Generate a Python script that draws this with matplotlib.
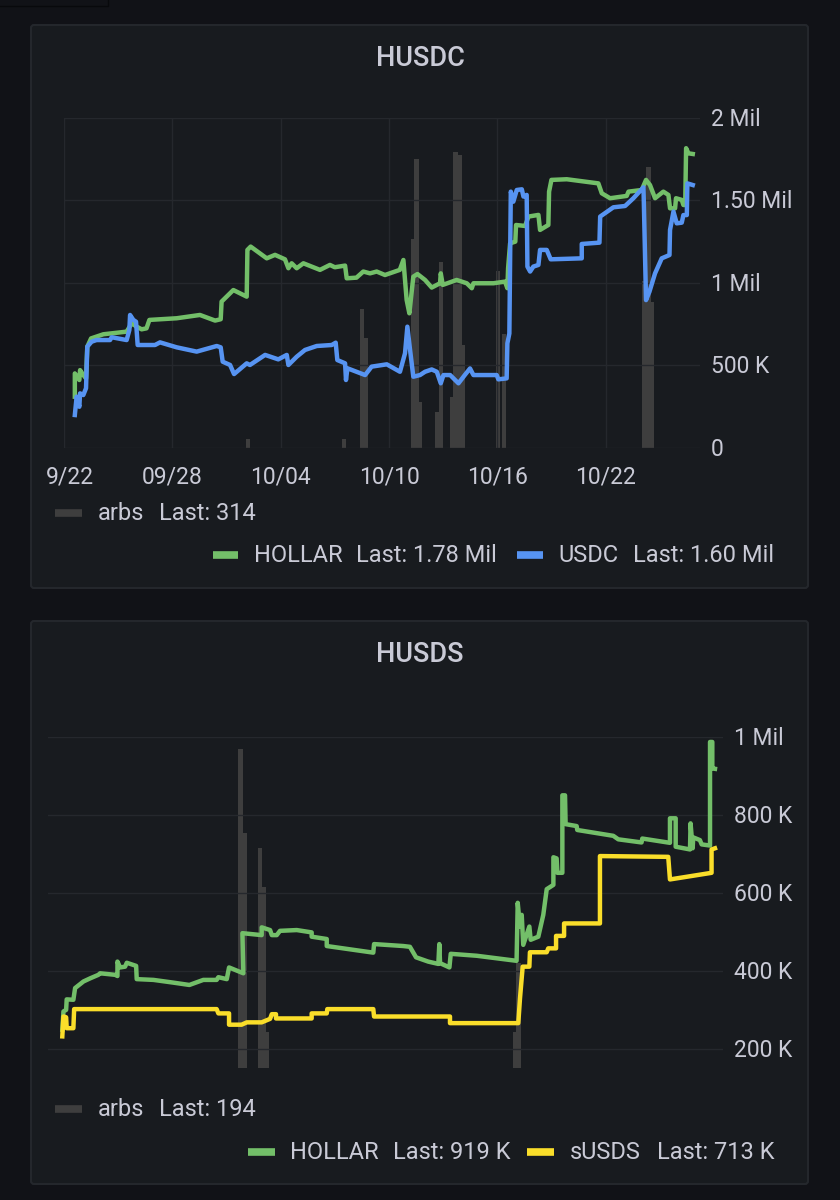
import matplotlib
matplotlib.use("Agg")
import matplotlib.pyplot as plt
from matplotlib.patches import FancyBboxPatch
from matplotlib.lines import Line2D
from matplotlib.transforms import ScaledTranslation
from matplotlib.ticker import FixedLocator, FixedFormatter

plt.rcParams['font.family'] = ['Roboto', 'DejaVu Sans']

W, H = 840, 1200
BG, PANEL, BORDER = '#111217', '#181b1f', '#24272c'
TEXT, GRID = '#c9cad6', '#25282d'
GREEN, BLUE, YELLOW, GREY = '#73bf69', '#5794f2', '#fade2a', '#3e3e3e'

# ---- HUSDC data (days since 09/22, values in thousands)
c1_ticks_day = [0, 6, 12, 18, 24, 30]
c1_ticks_lab = ['9/22', '09/28', '10/04', '10/10', '10/16', '10/22']
c1_yticks = [0, 500, 1000, 1500, 2000]
c1_ylabs = ['0', '500 K', '1 Mil', '1.50 Mil', '2 Mil']

c1_hollar_d = [0.6,0.6,0.85,0.89,1.07,1.22,1.29,1.5,2.18,3.47,3.75,4.03,4.3,4.57,4.73,6.24,7.53,8.37,8.68,8.73,9.38,10.12,10.16,10.34,11.23,11.69,12.24,12.43,12.61,12.89,13.26,14.18,14.73,15.0,15.57,15.66,16.2,16.58,16.95,17.32,17.78,18.6,18.8,18.98,19.13,19.35,19.58,20.0,20.37,20.83,20.87,20.98,21.75,22.31,22.59,22.68,23.79,24.43,24.56,24.6,24.71,25.0,25.04,25.54,25.73,26.28,26.37,26.83,26.87,27.0,27.85,29.6,29.79,30.25,31.17,31.27,32.0,32.24,32.46,32.74,33.2,33.48,33.57,33.85,33.9,34.22,34.31,34.41,34.46,34.59,34.83]
c1_hollar_v = [309,450,410,470,440,420,612,662,687,703,753,733,717,723,774,784,804,770,778,885,955,915,1198,1218,1147,1168,1141,1087,1117,1087,1117,1077,1107,1093,1103,1026,1030,1067,1056,1067,1046,1077,1137,895,814,1036,1052,1016,970,996,1056,986,1016,996,966,996,996,1006,966,1087,1238,1248,1349,1343,1400,1410,1319,1349,1551,1622,1626,1601,1541,1511,1525,1551,1561,1622,1591,1511,1551,1531,1450,1450,1511,1501,1470,1470,1814,1783,1779]

c1_usdc_d = [0.6,0.7,0.85,0.89,1.07,1.22,1.29,1.53,1.8,2.55,2.64,3.47,3.62,3.66,3.84,3.99,4.08,5.04,5.32,6.24,7.35,8.46,8.68,8.79,9.2,9.42,10.12,10.3,11.14,11.87,12.34,12.43,12.89,13.35,14.0,14.83,15.05,15.14,15.57,15.62,15.7,16.68,17.04,17.88,18.61,18.89,19.02,19.17,19.35,19.72,20.0,20.37,20.65,20.87,21.02,21.39,21.85,22.2,22.49,22.68,23.97,24.06,24.52,24.56,24.67,24.75,24.89,25.08,25.36,25.45,25.63,25.67,25.82,26.0,26.28,26.37,26.74,26.96,28.68,28.68,29.66,29.7,30.43,31.08,31.54,32.1,32.24,32.43,32.74,33.11,33.54,33.57,33.76,33.94,34.22,34.31,34.5,34.53,34.83]
c1_usdc_v = [198,309,248,329,319,360,612,642,652,652,669,652,713,804,774,763,622,622,638,608,582,616,608,521,501,446,511,501,562,535,562,501,551,592,616,622,636,531,511,410,481,440,491,505,460,572,733,592,430,440,460,474,460,390,440,440,390,440,480,440,440,414,420,632,692,1551,1490,1561,1565,1521,1531,1097,1067,1097,1107,1198,1198,1141,1147,1234,1242,1400,1456,1464,1511,1577,894,945,1056,1147,1167,1319,1430,1359,1363,1409,1409,1601,1591]

c1_arbs_d = [10.2,15.5,16.5,16.72,19.32,19.54,19.72,20.65,20.87,21.48,21.68,21.9,22.09,24.05,24.36,32.15,32.37,32.56]
c1_arbs_v = [50,50,838,662,1262,1747,279,218,1127,309,1793,1773,622,1072,686,1010,1702,884]

# ---- HUSDS data
c2_yticks = [200, 400, 600, 800, 1000]
c2_ylabs = ['200 K', '400 K', '600 K', '800 K', '1 Mil']

c2_hollar_d = [0.63,0.69,0.83,0.86,1.21,1.3,1.74,2.09,2.52,2.61,3.4,3.52,3.52,3.66,3.92,4.01,4.5,4.53,5.41,6.45,7.29,8.02,8.72,8.81,9.25,9.37,10.12,10.07,11.08,11.08,11.52,11.61,11.87,12.04,12.92,13.7,13.7,14.49,14.49,16.93,16.97,18.5,18.85,19.17,19.81,20.34,20.39,20.43,20.92,20.99,22.35,24.44,24.5,24.62,24.71,24.79,25.11,25.18,25.58,25.84,26.02,26.37,26.37,26.54,26.58,26.84,26.84,26.98,27.01,27.59,27.62,29.51,29.77,30.99,31.03,32.48,32.48,32.78,32.78,33.53,33.56,33.67,33.7,34.05,34.14,34.58,34.58,34.7,34.7,34.84]
c2_hollar_v = [249,296,300,327,326,356,373,381,390,394,390,387,424,409,411,421,413,379,377,370,364,377,377,384,379,409,394,497,492,512,505,492,492,503,505,499,488,482,464,447,469,464,462,435,424,418,469,420,409,444,439,426,575,514,544,467,514,480,488,544,610,621,692,689,652,652,851,851,777,772,762,747,738,730,740,729,792,792,719,712,779,715,743,736,725,722,988,988,920,919]

c2_susds_d = [0.63,0.69,0.83,0.86,1.21,1.25,8.72,8.81,9.37,9.37,10.03,10.3,11.08,11.52,11.61,11.83,11.83,13.7,13.7,14.49,14.52,16.93,16.97,20.95,20.95,24.53,24.62,24.76,25.11,25.14,26.02,26.1,26.51,26.51,26.93,26.93,28.81,28.81,32.39,32.48,34.66,34.66,34.84]
c2_susds_v = [232,283,281,253,253,302,302,291,291,262,262,268,268,277,289,289,278,278,291,291,302,302,283,283,266,266,330,411,411,448,448,458,458,490,490,522,522,695,693,635,652,712,715]

c2_arbs_d = [9.98,10.17,10.99,11.17,11.34,24.36,24.53]
c2_arbs_v = [821,603,567,466,92,94,270]


def fx(p): return p / W
def fy(p): return 1 - p / H


fig = plt.figure(figsize=(W / 100, H / 100), dpi=100, facecolor=BG)


def ax_rect(l, t, r, b):
    return [fx(l), fy(b), (r - l) / W, (b - t) / H]


def txt(x, y, s, size=17, **kw):
    kw.setdefault('color', TEXT)
    kw.setdefault('va', 'center')
    fig.text(fx(x), fy(y), s, fontsize=size, **kw)


def swatch(x0, x1, y, c, lw=5.5):
    fig.add_artist(Line2D([fx(x0), fx(x1)], [fy(y), fy(y)], color=c, lw=lw, solid_capstyle='butt'))


def panel(t, b):
    fig.add_artist(FancyBboxPatch((31, H - b), 777, b - t, boxstyle='round,pad=0,rounding_size=3',
                                  transform=None, fc=PANEL, ec=BORDER, lw=1.5, zorder=-5))


def shift_y_labels(ax):
    for lab in ax.get_yticklabels():
        lab.set_transform(lab.get_transform() + ScaledTranslation(0, 1 / 100, fig.dpi_scale_trans))


# fragment of the panel above, at the very top
fig.add_artist(Line2D([0, fx(108), fx(108)], [fy(6), fy(6), 1], color='#08090c', lw=1))

panel(25, 588)
panel(621, 1184)

LW = 3.2

# ---- HUSDC
a1 = fig.add_axes(ax_rect(64, 117.5, 700, 447.7))
b1 = a1.twinx()
a1.set_zorder(b1.get_zorder() + 1)
a1.patch.set_visible(False)
b1.patch.set_visible(False)
for a in (a1, b1):
    for s in a.spines.values():
        s.set_visible(False)
a1.set_xlim(0, 35.23)
a1.set_ylim(0, 2000)
b1.set_ylim(0, 2000)
b1.bar(c1_arbs_d, c1_arbs_v, width=0.25, color=GREY, linewidth=0)
a1.plot(c1_hollar_d, c1_hollar_v, color=GREEN, lw=LW, solid_joinstyle='round')
a1.plot(c1_usdc_d, c1_usdc_v, color=BLUE, lw=LW, solid_joinstyle='round')
a1.grid(True, color=GRID, lw=1)
a1.set_axisbelow(True)
b1.set_yticks([])
a1.xaxis.set_major_locator(FixedLocator(c1_ticks_day))
a1.xaxis.set_major_formatter(FixedFormatter(c1_ticks_lab))
a1.yaxis.tick_right()
a1.set_yticks(c1_yticks, c1_ylabs)
a1.tick_params(axis='x', length=0, pad=13, labelsize=16.5, labelcolor=TEXT)
a1.tick_params(axis='y', length=0, pad=8, labelsize=16.5, labelcolor=TEXT)
lab0 = a1.get_xticklabels()[0]
lab0.set_transform(lab0.get_transform() + ScaledTranslation(6 / 100, 0, fig.dpi_scale_trans))
shift_y_labels(a1)

txt(420, 58, 'HUSDC', size=19.5, ha='center', weight='medium')
swatch(55, 82, 513, GREY)
txt(98, 513.5, 'arbs')
txt(159, 513.5, 'Last: 314')
swatch(213, 238, 555, GREEN)
txt(254, 555.5, 'HOLLAR')
txt(356, 555.5, 'Last: 1.78 Mil')
swatch(517, 543, 555, BLUE)
txt(558, 555.5, 'USDC')
txt(633, 555.5, 'Last: 1.60 Mil')

# ---- HUSDS
a2 = fig.add_axes(ax_rect(48, 737.3, 723, 1068.3))
b2 = a2.twinx()
a2.set_zorder(b2.get_zorder() + 1)
a2.patch.set_visible(False)
b2.patch.set_visible(False)
for a in (a2, b2):
    for s in a.spines.values():
        s.set_visible(False)
a2.set_xlim(-0.12, 35.26)
a2.set_ylim(150, 1000)
b2.set_ylim(0, 850)
b2.bar(c2_arbs_d, c2_arbs_v, width=0.24, color=GREY, linewidth=0)
a2.plot(c2_hollar_d, c2_hollar_v, color=GREEN, lw=LW, solid_joinstyle='round')
a2.plot(c2_susds_d, c2_susds_v, color=YELLOW, lw=LW, solid_joinstyle='round')
a2.grid(True, axis='y', color=GRID, lw=1)
a2.set_axisbelow(True)
b2.set_yticks([])
a2.set_xticks([])
a2.yaxis.tick_right()
a2.set_yticks(c2_yticks, c2_ylabs)
a2.tick_params(axis='y', length=0, pad=8, labelsize=16.5, labelcolor=TEXT)
shift_y_labels(a2)

txt(420, 654, 'HUSDS', size=19.5, ha='center', weight='medium')
swatch(55, 82, 1109, GREY)
txt(98, 1109.5, 'arbs')
txt(159, 1109.5, 'Last: 194')
swatch(248, 275, 1152, GREEN)
txt(290, 1152.5, 'HOLLAR')
txt(393, 1152.5, 'Last: 919 K')
swatch(527, 554, 1152, YELLOW)
txt(570, 1152.5, 'sUSDS')
txt(657, 1152.5, 'Last: 713 K')

fig.savefig('out.png', dpi=100, facecolor=BG)
